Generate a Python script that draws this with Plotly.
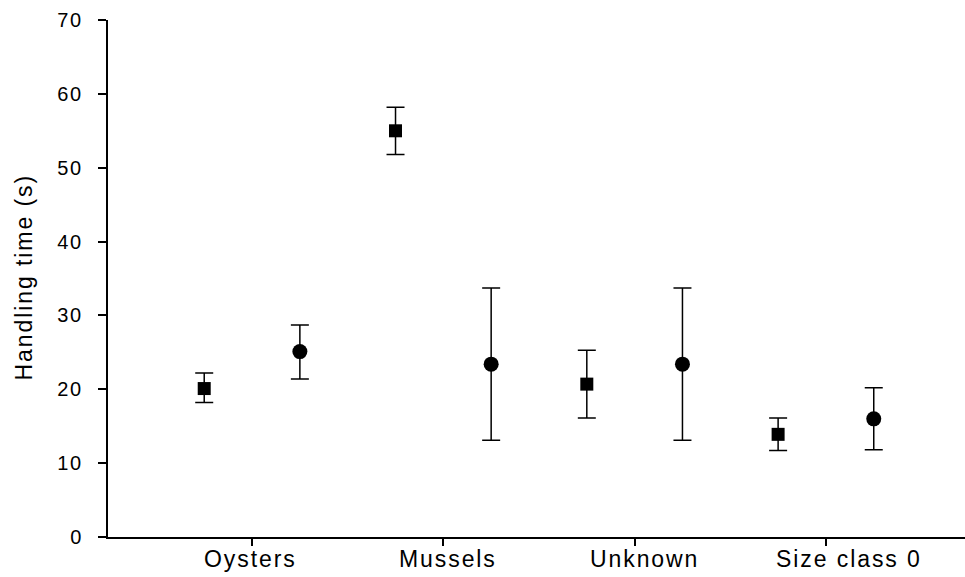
import plotly.graph_objects as go

categories = ["Oysters", "Mussels", "Unknown", "Size class 0"]
square_mean = [20.1, 55.0, 20.7, 13.9]
square_upper = [22.2, 58.2, 25.3, 16.1]
square_lower = [18.2, 51.8, 16.1, 11.7]
circle_mean = [25.1, 23.4, 23.4, 16.0]
circle_upper = [28.7, 33.7, 33.7, 20.2]
circle_lower = [21.4, 13.1, 13.1, 11.8]
y_ticks = [0, 10, 20, 30, 40, 50, 60, 70]

FONT = "Arial, Liberation Sans, sans-serif"
idx = list(range(len(categories)))
sq_x = [i - 0.25 for i in idx]
ci_x = [i + 0.25 for i in idx]

def spaced(s, sep="\u200a"):
    return sep.join(list(s))

fig = go.Figure()
fig.add_trace(go.Scatter(
    x=sq_x, y=square_mean, mode="markers",
    marker=dict(symbol="square", size=13, color="black"),
    error_y=dict(type="data", symmetric=False,
                 array=[u - m for u, m in zip(square_upper, square_mean)],
                 arrayminus=[m - l for l, m in zip(square_lower, square_mean)],
                 color="black", thickness=1.5, width=9),
    showlegend=False))
fig.add_trace(go.Scatter(
    x=ci_x, y=circle_mean, mode="markers",
    marker=dict(symbol="circle", size=15, color="black"),
    error_y=dict(type="data", symmetric=False,
                 array=[u - m for u, m in zip(circle_upper, circle_mean)],
                 arrayminus=[m - l for l, m in zip(circle_lower, circle_mean)],
                 color="black", thickness=1.5, width=9),
    showlegend=False))

xshifts = [-3, 4, 9, 22]
for i, (c, s) in enumerate(zip(categories, xshifts)):
    fig.add_annotation(x=i, xref="x", y=0, yref="paper", yanchor="middle",
                       xanchor="center", yshift=-22, xshift=s, text=spaced(c),
                       showarrow=False,
                       font=dict(family=FONT, size=23, color="black"))

fig.add_annotation(x=0, xref="paper", y=0.5, yref="paper", xanchor="center",
                   yanchor="middle", xshift=-85,
                   text=spaced("Handling time (s)"), textangle=-90, showarrow=False,
                   font=dict(family=FONT, size=23, color="black"))

fig.update_layout(
    width=965, height=577,
    margin=dict(l=108, r=0, t=20, b=40),
    plot_bgcolor="white", paper_bgcolor="white",
    font=dict(family=FONT, color="black"),
    xaxis=dict(range=[-0.753, 3.727], tickvals=idx, ticktext=categories,
               showticklabels=False, ticks="outside", ticklen=7, tickwidth=1.5,
               tickcolor="black", showline=True, linecolor="black", linewidth=1.5,
               showgrid=False, zeroline=False),
    yaxis=dict(range=[0, 70], tickvals=y_ticks,
               ticktext=[spaced(str(v)) for v in y_ticks],
               ticks="outside", ticklen=8,
               tickwidth=1.5, tickcolor="black", showline=True, linecolor="black",
               linewidth=1.5, showgrid=False, zeroline=False,
               tickfont=dict(family=FONT, size=20, color="black"),
               ticklabelstandoff=13),
)

fig.write_html("out.html")
